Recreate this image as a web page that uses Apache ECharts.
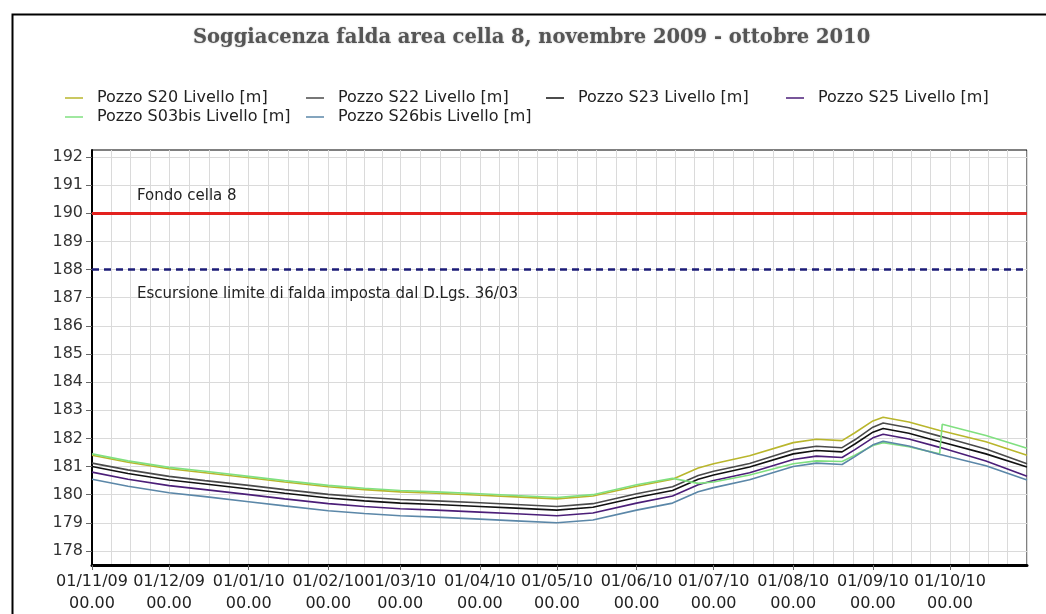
<!DOCTYPE html>
<html>
<head>
<meta charset="utf-8">
<title>Soggiacenza falda area cella 8</title>
<script src="https://cdn.jsdelivr.net/npm/echarts@6/dist/echarts.min.js"></script>
<style>
  html, body { margin: 0; padding: 0; background: #fff; }
  #chart { width: 1046px; height: 614px; }
</style>
</head>
<body>
<div id="chart"></div>
<script>
// date delle letture (comuni a tutti i pozzi)
var dates = ['2009-11-01', '2009-11-15', '2009-12-01', '2009-12-15', '2010-01-01', '2010-01-15',
  '2010-02-01', '2010-02-15', '2010-03-01', '2010-03-15', '2010-04-01', '2010-04-15',
  '2010-05-01', '2010-05-15', '2010-06-01', '2010-06-15', '2010-06-25', '2010-07-01',
  '2010-07-15', '2010-08-01', '2010-08-10', '2010-08-20', '2010-08-25', '2010-09-01',
  '2010-09-05', '2010-09-15', '2010-09-27', '2010-09-28', '2010-10-15', '2010-10-31']

// livelli [m s.l.m.]
var s20 = [181.40, 181.15, 180.92, 180.78, 180.60, 180.45, 180.28, 180.18, 180.10, 180.05,
  179.98, 179.92, 179.85, 179.95, 180.30, 180.55, 180.95, 181.10, 181.38, 181.85,
  181.97, 181.92, 182.20, 182.62, 182.75, 182.58, 182.28, 182.26, 181.88, 181.40]
var s22 = [181.12, 180.88, 180.65, 180.50, 180.33, 180.18, 180.01, 179.91, 179.83, 179.78,
  179.71, 179.65, 179.58, 179.68, 180.03, 180.28, 180.68, 180.83, 181.11, 181.60,
  181.72, 181.67, 181.95, 182.40, 182.55, 182.38, 182.08, 182.06, 181.62, 181.10]
var s23 = [181.00, 180.75, 180.52, 180.38, 180.20, 180.05, 179.88, 179.78, 179.70, 179.65,
  179.58, 179.52, 179.45, 179.55, 179.90, 180.15, 180.55, 180.70, 180.98, 181.45,
  181.57, 181.52, 181.80, 182.22, 182.35, 182.18, 181.88, 181.86, 181.45, 180.98]
var s25 = [180.80, 180.55, 180.32, 180.18, 180.00, 179.85, 179.68, 179.58, 179.50, 179.45,
  179.38, 179.32, 179.25, 179.35, 179.70, 179.95, 180.35, 180.50, 180.78, 181.25,
  181.37, 181.32, 181.60, 182.02, 182.15, 181.98, 181.68, 181.66, 181.20, 180.65]
var s03bis = [181.45, 181.20, 180.97, 180.83, 180.65, 180.50, 180.33, 180.23, 180.15, 180.10,
  180.03, 179.97, 179.90, 180.00, 180.35, 180.58, 180.40, 180.45, 180.70, 181.10,
  181.20, 181.18, 181.40, 181.75, 181.85, 181.70, 181.45, 182.50, 182.10, 181.65]
var s26bis = [180.55, 180.30, 180.07, 179.93, 179.75, 179.60, 179.43, 179.33, 179.25, 179.20,
  179.13, 179.07, 179.00, 179.10, 179.45, 179.70, 180.10, 180.25, 180.53, 181.00,
  181.12, 181.07, 181.35, 181.77, 181.90, 181.73, 181.43, 181.41, 181.03, 180.52]

var yTicks = [178, 179, 180, 181, 182, 183, 184, 185, 186, 187, 188, 189, 190, 191, 192]
var fondoCella = 190
var limiteFalda = 188

var FONT = 'DejaVu Sans'
var chart = echarts.init(document.getElementById('chart'))

function toPairs (vals) {
  return dates.map(function (d, i) {
    return [new Date(d).getTime(), vals[i]]
  })
}

function pad (n) {
  return (n < 10 ? '0' : '') + n
}

// etichetta asse x: gg/mm/aa + ora
function fmtData (v) {
  var d = new Date(v)
  return pad(d.getUTCDate()) + '/' + pad(d.getUTCMonth() + 1) + '/' + pad(d.getUTCFullYear() % 100) +
    '\n' + pad(d.getUTCHours()) + '.' + pad(d.getUTCMinutes())
}

function serie (name, vals, color) {
  return {
    name: name,
    type: 'line',
    data: toPairs(vals),
    symbol: 'none',
    silent: true,
    lineStyle: { color: color, width: 1.6 },
    itemStyle: { color: color }
  }
}

function legenda (name, left, top) {
  return {
    data: [name],
    left: left,
    top: top,
    padding: 0,
    icon: 'rect',
    itemWidth: 18,
    itemHeight: 1.5,
    selectedMode: false,
    textStyle: { fontFamily: FONT, fontSize: 16, color: '#222', padding: [0, 0, 0, 9] }
  }
}

var series = [
  serie('Pozzo S20 Livello [m]', s20, '#b9b62c'),
  serie('Pozzo S22 Livello [m]', s22, '#4a4a4a'),
  serie('Pozzo S23 Livello [m]', s23, '#111111'),
  serie('Pozzo S25 Livello [m]', s25, '#4b1e78'),
  serie('Pozzo S03bis Livello [m]', s03bis, '#80e080'),
  serie('Pozzo S26bis Livello [m]', s26bis, '#5b87a8')
]

series[0].markLine = {
  silent: true,
  symbol: ['none', 'none'],
  animation: false,
  data: [
    {
      yAxis: fondoCella,
      lineStyle: { color: '#e3211e', width: 3, type: 'solid' },
      label: { formatter: 'Fondo cella 8', position: 'insideStartTop', distance: [45, 10],
        fontFamily: FONT, fontSize: 15, color: '#222' }
    },
    {
      yAxis: limiteFalda,
      lineStyle: { color: '#1c1c78', width: 2.5, type: [7, 5] },
      label: { formatter: 'Escursione limite di falda imposta dal D.Lgs. 36/03', position: 'insideStartBottom',
        distance: [45, 17], fontFamily: FONT, fontSize: 15, color: '#222' }
    }
  ]
}

var option = {
  useUTC: true,
  animation: false,
  backgroundColor: '#fff',
  title: {
    text: 'Soggiacenza falda area cella 8, novembre 2009 - ottobre 2010',
    left: 193,
    top: 28,
    padding: 0,
    textStyle: { fontFamily: 'DejaVu Serif', fontWeight: 'bold', fontSize: 19.5, color: '#555',
      textShadowColor: 'rgba(0,0,0,0.25)', textShadowBlur: 2 }
  },
  legend: [
    legenda('Pozzo S20 Livello [m]', 65, 90),
    legenda('Pozzo S22 Livello [m]', 306, 90),
    legenda('Pozzo S23 Livello [m]', 546, 90),
    legenda('Pozzo S25 Livello [m]', 786, 90),
    legenda('Pozzo S03bis Livello [m]', 65, 109),
    legenda('Pozzo S26bis Livello [m]', 306, 109)
  ],
  graphic: [{
    type: 'rect',
    left: 10,
    top: 12,
    silent: true,
    z: -10,
    shape: { width: 1080, height: 660 },
    style: { fill: 'none', stroke: '#000', lineWidth: 2 }
  }],
  grid: {
    left: 92,
    right: 19,
    top: 150,
    bottom: 49,
    outerBoundsMode: 'none',
    show: true,
    backgroundColor: '#fff',
    borderColor: '#000',
    borderWidth: 1
  },
  xAxis: {
    type: 'time',
    min: new Date('2009-11-01').getTime(),
    max: new Date('2010-10-31').getTime(),
    splitNumber: 12,
    minInterval: 28 * 86400000,
    maxInterval: 31 * 86400000,
    axisLine: { lineStyle: { color: '#000', width: 3 } },
    axisTick: { length: 5, lineStyle: { color: '#666' } },
    minorTick: { show: false, splitNumber: 4 },
    splitLine: { show: true, lineStyle: { color: '#dadada', width: 1 } },
    minorSplitLine: { show: true, lineStyle: { color: '#dadada', width: 1 } },
    axisLabel: {
      formatter: fmtData,
      showMaxLabel: false,
      hideOverlap: false,
      interval: 0,
      margin: 6,
      fontFamily: FONT,
      fontSize: 16,
      lineHeight: 22,
      color: '#222'
    }
  },
  yAxis: {
    type: 'value',
    min: 177.5,
    max: 192.25,
    interval: 0.5,
    axisLine: { show: true, lineStyle: { color: '#000', width: 2 } },
    axisTick: { show: true, customValues: yTicks, length: 6, lineStyle: { color: '#666' } },
    splitLine: { show: true, lineStyle: { color: '#dadada', width: 1 } },
    axisLabel: {
      customValues: yTicks,
      formatter: function (v) { return Number.isInteger(v) ? String(v) : '' },
      margin: 9,
      fontFamily: FONT,
      fontSize: 16,
      color: '#333'
    }
  },
  series: series
}

chart.setOption(option)
</script>
</body>
</html>
